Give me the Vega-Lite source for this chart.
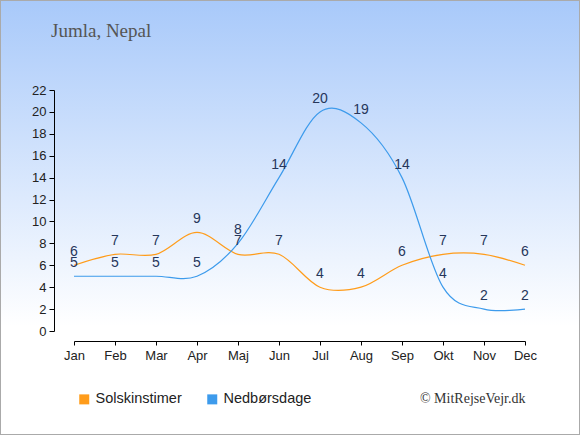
{
  "$schema": "https://vega.github.io/schema/vega-lite/v6.json",
  "width": 580,
  "height": 435,
  "autosize": {"type": "none"},
  "padding": 0,
  "background": "#ffffff",
  "title": {
    "text": "Jumla, Nepal",
    "anchor": "start",
    "frame": "group",
    "offset": -41,
    "dx": 51,
    "font": "Liberation Serif",
    "fontSize": 19,
    "fontWeight": "normal",
    "color": "#555555"
  },
  "data": {
    "values": [
      {"month": "Jan", "serie": "Solskinstimer", "value": 6},
      {"month": "Feb", "serie": "Solskinstimer", "value": 7},
      {"month": "Mar", "serie": "Solskinstimer", "value": 7},
      {"month": "Apr", "serie": "Solskinstimer", "value": 9},
      {"month": "Maj", "serie": "Solskinstimer", "value": 7},
      {"month": "Jun", "serie": "Solskinstimer", "value": 7},
      {"month": "Jul", "serie": "Solskinstimer", "value": 4},
      {"month": "Aug", "serie": "Solskinstimer", "value": 4},
      {"month": "Sep", "serie": "Solskinstimer", "value": 6},
      {"month": "Okt", "serie": "Solskinstimer", "value": 7},
      {"month": "Nov", "serie": "Solskinstimer", "value": 7},
      {"month": "Dec", "serie": "Solskinstimer", "value": 6},
      {"month": "Jan", "serie": "Nedbørsdage", "value": 5},
      {"month": "Feb", "serie": "Nedbørsdage", "value": 5},
      {"month": "Mar", "serie": "Nedbørsdage", "value": 5},
      {"month": "Apr", "serie": "Nedbørsdage", "value": 5},
      {"month": "Maj", "serie": "Nedbørsdage", "value": 8},
      {"month": "Jun", "serie": "Nedbørsdage", "value": 14},
      {"month": "Jul", "serie": "Nedbørsdage", "value": 20},
      {"month": "Aug", "serie": "Nedbørsdage", "value": 19},
      {"month": "Sep", "serie": "Nedbørsdage", "value": 14},
      {"month": "Okt", "serie": "Nedbørsdage", "value": 4},
      {"month": "Nov", "serie": "Nedbørsdage", "value": 2},
      {"month": "Dec", "serie": "Nedbørsdage", "value": 2}
    ]
  },
  "encoding": {
    "x": {
      "field": "month",
      "type": "ordinal",
      "sort": null,
      "scale": {"type": "point", "range": [74, 525], "padding": 0},
      "axis": {
        "orient": "bottom",
        "offset": -94,
        "labelAngle": 0,
        "labelFont": "Liberation Sans",
        "labelFontSize": 13,
        "labelColor": "#222222",
        "labelPadding": 4,
        "domainColor": "#000000",
        "tickColor": "#000000",
        "tickSize": 4,
        "grid": false,
        "title": "© MitRejseVejr.dk",
        "titleFont": "Liberation Serif",
        "titleFontSize": 14,
        "titleFontWeight": "normal",
        "titleColor": "#333333",
        "titleAlign": "right",
        "titleBaseline": "alphabetic",
        "titleX": 525,
        "titleY": 61
      }
    },
    "y": {
      "field": "value",
      "type": "quantitative",
      "scale": {"domain": [0, 22], "range": [331, 90], "nice": false, "zero": false},
      "axis": {
        "orient": "left",
        "offset": -54,
        "values": [0, 2, 4, 6, 8, 10, 12, 14, 16, 18, 20, 22],
        "labelFont": "Liberation Sans",
        "labelFontSize": 13,
        "labelColor": "#222222",
        "labelPadding": 3,
        "domainColor": "#000000",
        "tickColor": "#000000",
        "tickSize": 5,
        "grid": false,
        "title": null
      }
    },
    "color": {
      "field": "serie",
      "type": "nominal",
      "scale": {"domain": ["Solskinstimer", "Nedbørsdage"], "range": ["#ff9c1a", "#3d9bec"]},
      "legend": {
        "orient": "none",
        "legendX": 77,
        "legendY": 392,
        "direction": "horizontal",
        "title": null,
        "symbolType": "square",
        "symbolSize": 100,
        "symbolStrokeWidth": 0,
        "labelFont": "Liberation Sans",
        "labelFontSize": 14.5,
        "labelColor": "#222222",
        "labelOffset": 4,
        "columnPadding": 23,
        "encode": {
          "symbols": {"update": {"fill": {"scale": "color", "field": "value"}, "opacity": {"value": 1}}}
        }
      }
    }
  },
  "layer": [
    {"mark": {"type": "line", "interpolate": "cardinal", "strokeWidth": 1.2}},
    {
      "mark": {"type": "text", "baseline": "middle", "dy": -13, "font": "Liberation Sans", "fontSize": 14},
      "encoding": {
        "text": {"field": "value", "type": "quantitative"},
        "color": {"value": "#26365a"}
      }
    }
  ],
  "config": {
    "view": {
      "fill": {
        "gradient": "linear",
        "x1": 0, "y1": 0, "x2": 0, "y2": 1,
        "stops": [
          {"offset": 0, "color": "#a8c9fa"},
          {"offset": 0.75, "color": "#ffffff"},
          {"offset": 1, "color": "#ffffff"}
        ]
      },
      "stroke": "#aaaaaa",
      "strokeWidth": 2
    }
  }
}
